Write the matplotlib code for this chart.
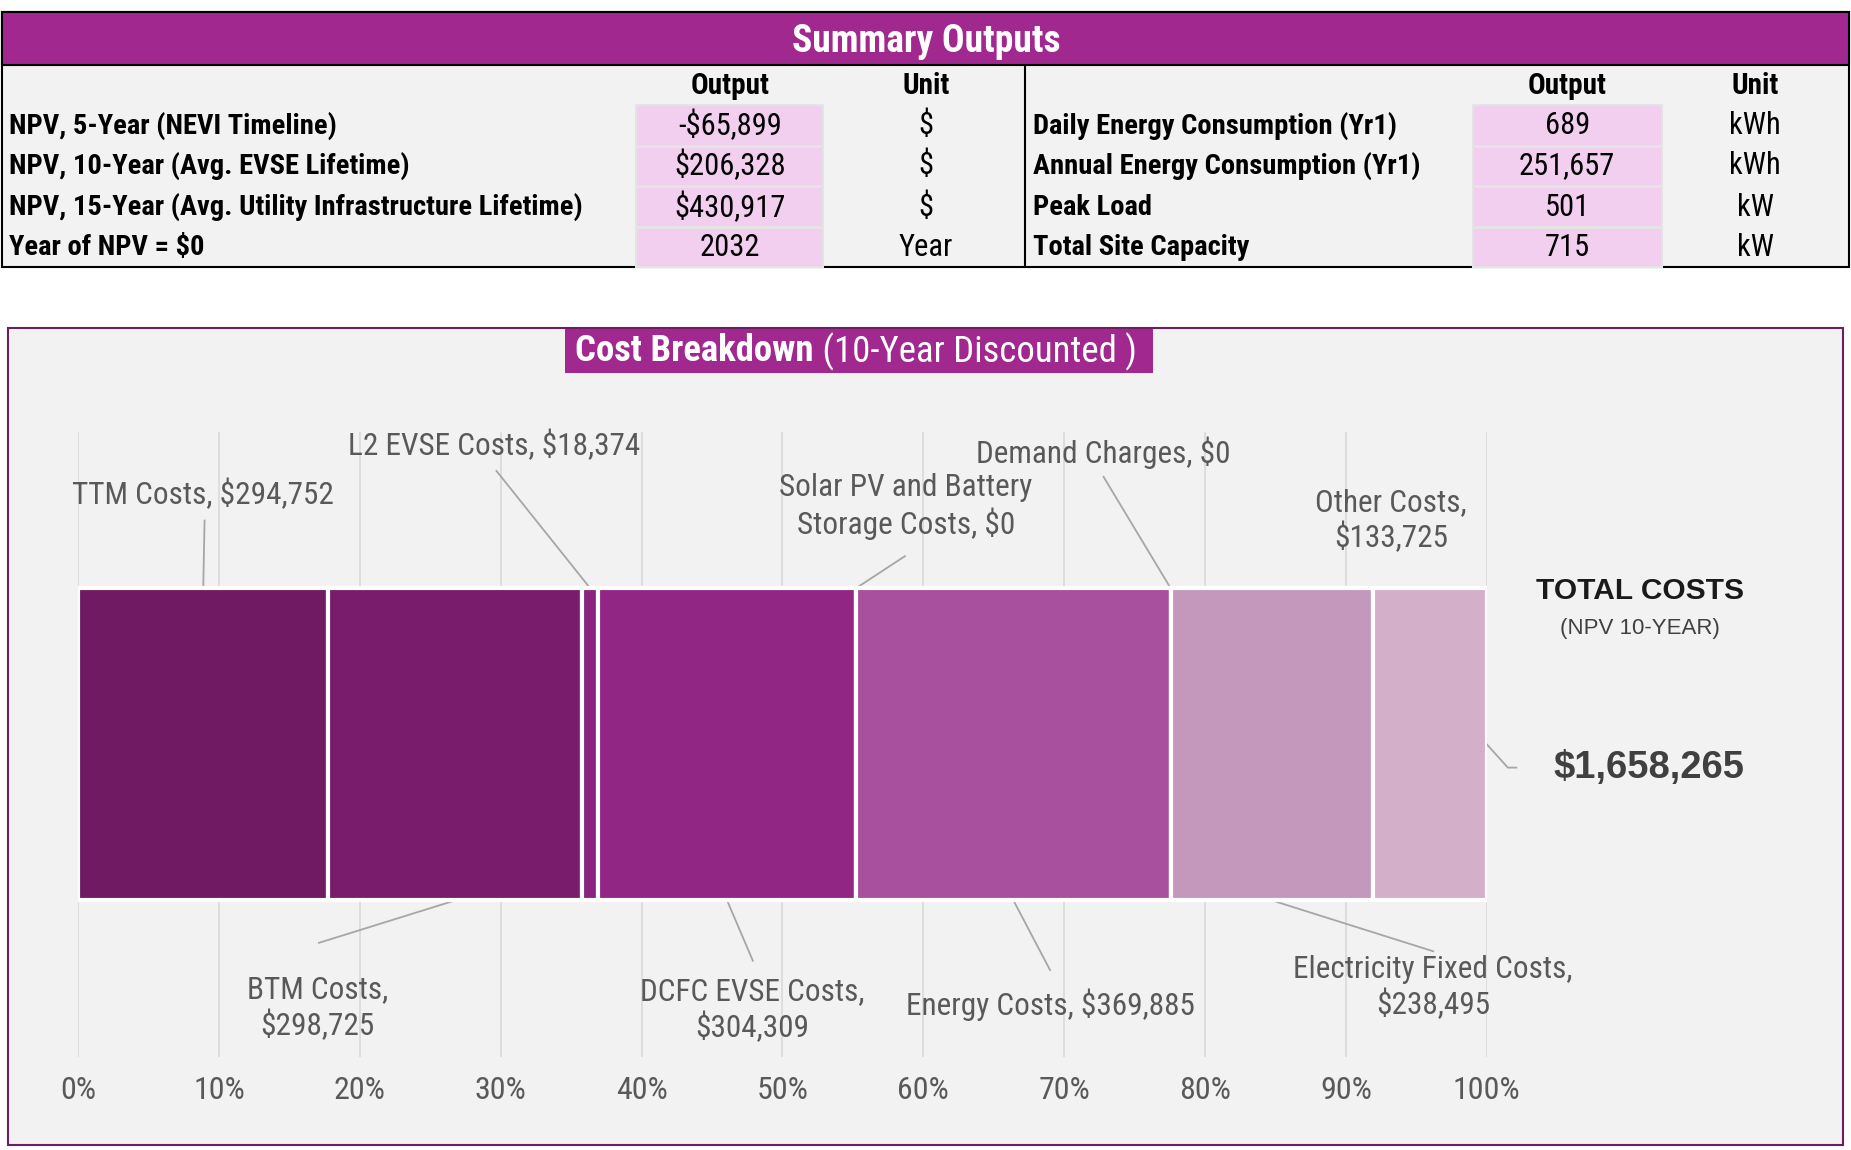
import matplotlib.pyplot as plt
from matplotlib.patches import Rectangle
from matplotlib.ticker import FuncFormatter

# summary table
left_rows = ["NPV, 5-Year (NEVI Timeline)",
             "NPV, 10-Year (Avg. EVSE Lifetime)",
             "NPV, 15-Year (Avg. Utility Infrastructure Lifetime)",
             "Year of NPV = $0"]
left_outputs = ["-$65,899", "$206,328", "$430,917", "2032"]
left_units = ["$", "$", "$", "Year"]

right_rows = ["Daily Energy Consumption (Yr1)",
              "Annual Energy Consumption (Yr1)",
              "Peak Load",
              "Total Site Capacity"]
right_outputs = ["689", "251,657", "501", "715"]
right_units = ["kWh", "kWh", "kW", "kW"]

# cost breakdown (10-year discounted)
cost_names = ["TTM Costs", "BTM Costs", "L2 EVSE Costs", "DCFC EVSE Costs",
              "Solar PV and Battery\nStorage Costs", "Energy Costs",
              "Demand Charges", "Electricity Fixed Costs", "Other Costs"]
cost_values = [294752, 298725, 18374, 304309, 0, 369885, 0, 238495, 133725]
bar_colors = ["#6F1A62", "#7A1C6C", "#8A2280", "#912684", "#9A3A8E",
              "#A8509E", "#B06CA8", "#C398BC", "#D4AFCA"]

NARROW = ["Liberation Sans Narrow", "Roboto Condensed", "DejaVu Sans"]
ARIAL = ["Liberation Sans", "DejaVu Sans"]
PURPLE = "#A0288F"
GREY_TXT = "#595959"

fig = plt.figure(figsize=(18.51, 11.5), dpi=100)
fig.patch.set_facecolor("white")

# background axes in "reference pixel" units (y down)
bg = fig.add_axes([0, 0, 1, 1])
bg.set_xlim(0, 1565)
bg.set_ylim(972, 0)
bg.axis("off")

# ---------- summary table ----------
bg.add_patch(Rectangle((2, 10), 1561, 216, facecolor="#F2F2F2",
                       edgecolor="black", lw=1.5, zorder=1))
bg.add_patch(Rectangle((2, 10), 1561, 45, facecolor=PURPLE,
                       edgecolor="black", lw=1.5, zorder=2))
bg.plot([867, 867], [55, 226], color="black", lw=1.5, zorder=3)
bg.text(783, 35, "Summary Outputs", color="white", fontsize=27,
        fontweight="bold", family=NARROW, ha="center", va="center", zorder=4)

row_y = [106, 140, 175, 209]
cell_top = [89, 124, 158, 193]
cell_bot = [123, 157, 192, 226]


def draw_block(rows, outputs, units, x_lab, x_cell0, x_cell1, x_unit):
    x_out = (x_cell0 + x_cell1) / 2
    bg.text(x_out, 73, "Output", fontsize=21, fontweight="bold", family=NARROW,
            ha="center", va="center", zorder=4)
    bg.text(x_unit, 73, "Unit", fontsize=21, fontweight="bold", family=NARROW,
            ha="center", va="center", zorder=4)
    for i in range(len(rows)):
        bg.add_patch(Rectangle((x_cell0, cell_top[i]), x_cell1 - x_cell0,
                               cell_bot[i] - cell_top[i], facecolor="#F2CEEF",
                               edgecolor="#E4E4E4", lw=1.5, zorder=2))
        bg.text(x_lab, row_y[i], rows[i], fontsize=20.5, fontweight="bold",
                family=NARROW, ha="left", va="center", zorder=4)
        bg.text(x_out, row_y[i], outputs[i], fontsize=22, family=NARROW,
                ha="center", va="center", zorder=4)
        bg.text(x_unit, row_y[i], units[i], fontsize=22, family=NARROW,
                ha="center", va="center", zorder=4)


draw_block(left_rows, left_outputs, left_units, 8, 538, 696, 783)
draw_block(right_rows, right_outputs, right_units, 873, 1245, 1405, 1484)

# ---------- chart frame ----------
bg.add_patch(Rectangle((7, 277), 1551, 691, facecolor="#F2F2F2",
                       edgecolor="#6B1F5F", lw=1.5, zorder=1))
bg.add_patch(Rectangle((478, 278), 497, 37, facecolor=PURPLE,
                       edgecolor="none", zorder=2))
t1 = bg.text(486, 297, "Cost Breakdown", color="white", fontsize=26.5,
             fontweight="bold", family=NARROW, ha="left", va="center", zorder=4)
fig.canvas.draw()
bb = t1.get_window_extent().transformed(bg.transData.inverted())
bg.text(bb.x1 + 1, 297, " (10-Year Discounted )", color="white", fontsize=26.5,
        family=NARROW, ha="left", va="center", zorder=4)

# ---------- stacked bar ----------
ax = fig.add_axes([66 / 1565, 1 - 893 / 972, 1191 / 1565, 528 / 972])
ax.set_facecolor("none")
ax.set_zorder(5)

total = sum(cost_values)
fracs = [v / total for v in cost_values]
lefts = []
acc = 0.0
for f in fracs:
    lefts.append(acc)
    acc += f

ax.barh(0, fracs, left=lefts, height=1.0, color=bar_colors,
        edgecolor="white", linewidth=3, zorder=3)

ax.set_xlim(0, 1)
ax.set_ylim(-1, 1)
ax.set_xticks([i / 10 for i in range(11)])
ax.xaxis.set_major_formatter(FuncFormatter(lambda v, p: f"{v * 100:.0f}%"))
ax.set_yticks([])
ax.grid(axis="x", color="#D9D9D9", lw=1.2, zorder=0)
ax.tick_params(axis="x", length=0, pad=14, labelsize=23, labelcolor=GREY_TXT)
for lab in ax.get_xticklabels():
    lab.set_family(NARROW)
for s in ax.spines.values():
    s.set_visible(False)

# label layout: (text x, text y, line end x, line end y, separator)
label_layout = [
    (0.089, 0.80, 0.0898, 0.716, ", "),
    (0.170, -0.845, 0.171, -0.636, ",\n"),
    (0.2956, 0.955, 0.297, 0.875, ", "),
    (0.4786, -0.852, 0.479, -0.693, ",\n"),
    (0.5877, 0.761, 0.587, 0.602, ", "),
    (0.690, -0.833, 0.690, -0.723, ", "),
    (0.728, 0.932, 0.728, 0.856, ", "),
    (0.962, -0.78, 0.962, -0.663, ",\n"),
    (0.932, 0.716, None, None, ",\n"),
]

for i, (name, val) in enumerate(zip(cost_names, cost_values)):
    tx, ty, lx, ly, sep = label_layout[i]
    mid = lefts[i] + fracs[i] / 2
    if fracs[i] == 0:
        mid = lefts[i]
    edge_y = 0.5 if ty > 0 else -0.5
    if lx is not None:
        ax.plot([mid, lx], [edge_y, ly], color="#A6A6A6", lw=1.3,
                clip_on=False, zorder=2)
    ax.text(tx, ty, f"{name}{sep}${val:,.0f}", fontsize=22.5, color=GREY_TXT,
            family=NARROW, ha="center", va="center", linespacing=1.2)

# total costs callout
ax.plot([1.0, 1.015, 1.021], [0.0, -0.075, -0.075], color="#A6A6A6", lw=1.3,
        clip_on=False)
ax.text(1.109, 0.489, "TOTAL COSTS", fontsize=21.5, fontweight="bold",
        color="#1A1A1A", family=ARIAL, ha="center", va="center", clip_on=False)
ax.text(1.109, 0.371, "(NPV 10-YEAR)", fontsize=16, color="#404040",
        family=ARIAL, ha="center", va="center", clip_on=False)
ax.text(1.115, -0.076, f"${total:,.0f}", fontsize=27.5, fontweight="bold",
        color="#404040", family=ARIAL, ha="center", va="center", clip_on=False)

fig.savefig("out.png", dpi=100, facecolor="white")
